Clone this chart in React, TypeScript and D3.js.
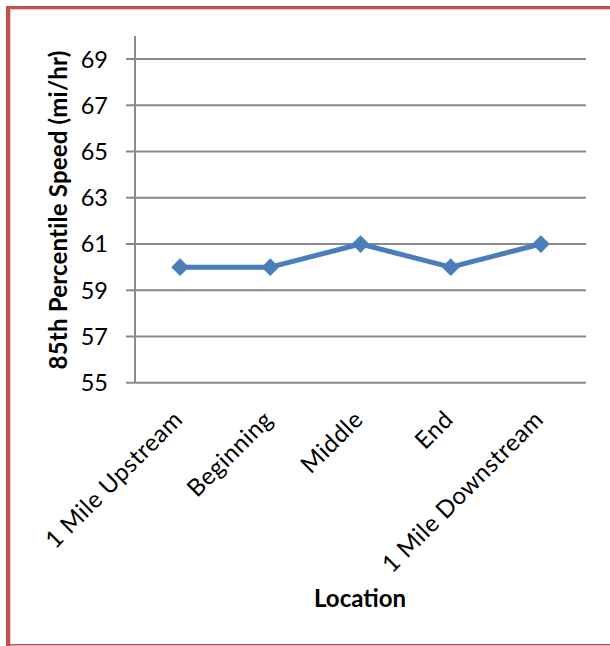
import React from "react";
import * as d3 from "d3";

const locations = ["1 Mile Upstream", "Beginning", "Middle", "End", "1 Mile Downstream"];
const speeds = [60, 60, 61, 60, 61];
const yTicks = [55, 57, 59, 61, 63, 65, 67, 69];

const W = 610;
const H = 646;
const FONT = "Lato, 'Open Sans', sans-serif";

export default function App() {
  const left = 135;
  const right = 586;
  const top = 36;
  const bottom = 382.7;

  const x = d3.scaleBand<string>().domain(locations).range([left, right]);
  const y = d3.scaleLinear().domain([55, 70]).range([bottom, top]);
  const cx = (d: string) => (x(d) ?? 0) + x.bandwidth() / 2;

  const line = d3
    .line<number>()
    .x((_, i) => cx(locations[i]))
    .y((v) => y(v));

  const diamond = d3.symbol().type(d3.symbolDiamond2).size(200)();

  return (
    <svg
      width={W}
      height={H}
      style={{ position: "absolute", left: 0, top: 0, background: "#fff" }}
      fontFamily={FONT}
    >
      {/* frame */}
      <rect x={6} y={6} width={W - 6} height={3} fill="#c0504d" />
      <rect x={6} y={9} width={W - 6} height={1} fill="#f2c9c8" />
      <rect x={6} y={6} width={4} height={H - 6} fill="#c0504d" />
      <rect x={10} y={9} width={1} height={H - 9} fill="#f2c9c8" />
      <rect x={6} y={644} width={W - 6} height={1.5} fill="#c0504d" />

      {/* gridlines and y ticks */}
      {yTicks.map((t) => (
        <g key={t}>
          <line x1={126} x2={right} y1={y(t)} y2={y(t)} stroke="#8a8a8a" strokeWidth={2} />
          <text
            x={108}
            y={y(t)}
            dy="0.36em"
            textAnchor="end"
            fontSize={23.5}
            fill="#000"
          >
            {t}
          </text>
        </g>
      ))}
      <line x1={left} x2={left} y1={top} y2={bottom} stroke="#8a8a8a" strokeWidth={2} />

      {/* series */}
      <path d={line(speeds) ?? ""} fill="none" stroke="#4a7ebb" strokeWidth={5} strokeLinejoin="round" />
      {speeds.map((v, i) => (
        <path
          key={i}
          d={diamond ?? ""}
          transform={`translate(${cx(locations[i])},${y(v)})`}
          fill="#4a7ebb"
        />
      ))}

      {/* category labels */}
      {locations.map((d) => (
        <text
          key={d}
          transform={`translate(${cx(d) + 4},${421}) rotate(-45)`}
          textAnchor="end"
          fontSize={24}
          letterSpacing={0.5}
          fill="#000"
        >
          {d}
        </text>
      ))}

      {/* axis titles */}
      <text
        transform={`translate(67,${210}) rotate(-90)`}
        textAnchor="middle"
        fontSize={24}
        letterSpacing={0.2}
        fontWeight="bold"
        fill="#000"
      >
        85th Percentile Speed (mi/hr)
      </text>
      <text x={360} y={607} textAnchor="middle" fontSize={24} fontWeight="bold" fill="#000">
        Location
      </text>
    </svg>
  );
}
